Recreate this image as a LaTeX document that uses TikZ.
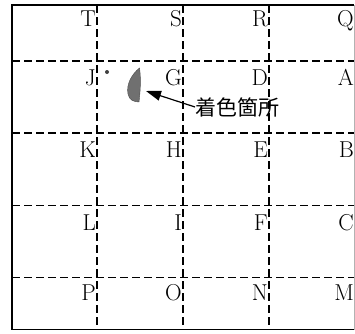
\documentclass[tikz,border=0pt]{standalone}
\usepackage{fontspec}
\newfontfamily\jpfont{Noto Sans CJK JP}
\usetikzlibrary{arrows.meta}
\begin{document}
\begin{tikzpicture}[x=1pt,y=-1pt,
  gridline/.style={line width=1.3pt, dash pattern=on 8pt off 4pt},
  border/.style={line width=1.4pt},
  lbl/.style={anchor=base east, inner sep=0pt, font=\fontsize{23}{23}\selectfont},
  callout/.style={anchor=west, inner sep=0pt, font=\jpfont\fontsize{21}{21}\selectfont},
  pointer/.style={line width=1.2pt, -{Triangle[length=15pt,width=10pt]}}]
\useasboundingbox (0,0) rectangle (355,333);
% border
\draw[border] (354,5) -- (12,5) -- (12,329.5) -- (354,329.5);
\draw[line width=0.6pt, gray!60] (354,5) -- (354,329.5);
% dashed grid
\foreach \y in {61,133,205.5,277.5} \draw[gridline] (12,\y) -- (354,\y);
\foreach \x in {97,183,269} \draw[gridline] (\x,5) -- (\x,329.5);
% labels
\node[lbl] (T) at (96,26) {T};
\node[lbl] (S) at (182,26) {S};
\node[lbl] (R) at (268,26) {R};
\node[lbl] (Q) at (354,26) {Q};
\node[lbl] (J) at (96,85) {J};
\node[lbl] (G) at (182,85) {G};
\node[lbl] (D) at (268,85) {D};
\node[lbl] (A) at (354,85) {A};
\node[lbl] (K) at (96,157) {K};
\node[lbl] (H) at (182,157) {H};
\node[lbl] (E) at (268,157) {E};
\node[lbl] (B) at (354,157) {B};
\node[lbl] (L) at (96,230) {L};
\node[lbl] (I) at (182,230) {I};
\node[lbl] (F) at (268,230) {F};
\node[lbl] (C) at (354,230) {C};
\node[lbl] (P) at (96,300) {P};
\node[lbl] (O) at (182,300) {O};
\node[lbl] (N) at (268,300) {N};
\node[lbl] (M) at (354,300) {M};
% coloured spot
\fill[gray!60!black!80, draw=black!70, line width=0.4pt]
  (139.5,68) .. controls (132,74) and (126,84) .. (128,94)
  .. controls (129,100) and (134,102) .. (139,102)
  .. controls (140.5,90) and (141,78) .. cycle;
\fill[gray!50!black] (107,72) circle (2);
% callout
\node[callout] (txt) at (195,107) {着色箇所};
\coordinate (tip) at (146,91);
\draw[pointer] (txt.west) -- (tip);
\end{tikzpicture}
\end{document}
